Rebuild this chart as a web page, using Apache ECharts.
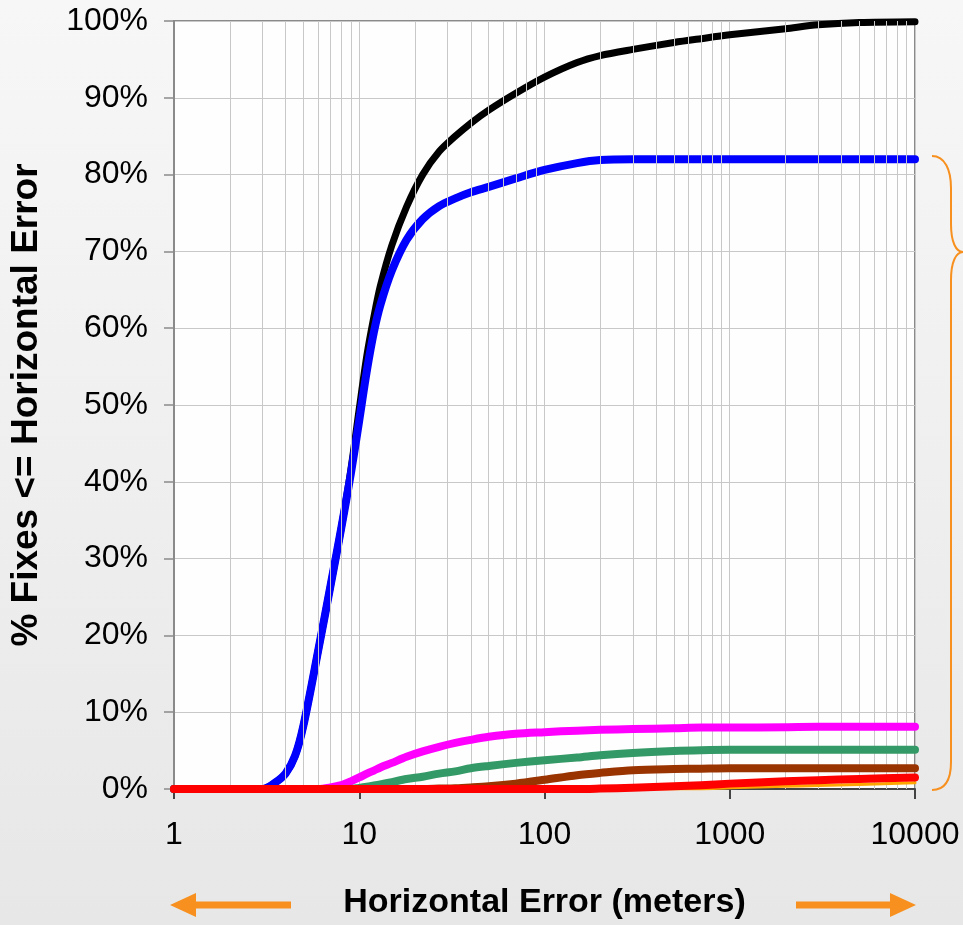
<!DOCTYPE html>
<html>
<head>
<meta charset="utf-8">
<script src="https://cdn.jsdelivr.net/npm/echarts@6/dist/echarts.min.js"></script>
<style>
html,body{margin:0;padding:0;background:#eeeeee;}
#chart{width:963px;height:925px;}
</style>
</head>
<body>
<div id="chart"></div>
<script>
// Horizontal error (meters), log scale
const errorsM = [1, 2, 3, 3.5, 4, 4.5, 5, 6, 7, 8, 9, 10, 11, 12, 13, 15, 18, 22, 27, 33, 40, 50, 70, 100, 150, 200, 300, 500, 700, 1000, 2000, 3000, 5000, 10000];

// % fixes <= horizontal error
const totalPct   = [0, 0, 0, 0.8, 2.0, 4.3, 8.3, 18, 26.5, 34, 41.5, 49.5, 56.5, 61.5, 65.5, 70.8, 75.8, 80, 83, 85, 86.7, 88.4, 90.6, 92.7, 94.6, 95.5, 96.3, 97.2, 97.7, 98.2, 99.0, 99.5, 99.8, 99.9];
const bluePct    = [0, 0, 0, 0.8, 2.0, 4.3, 8.3, 18, 26.5, 34, 41, 48, 54.5, 59.5, 63, 67.5, 71.5, 74.2, 75.9, 76.9, 77.7, 78.4, 79.5, 80.6, 81.5, 81.9, 82, 82, 82, 82, 82, 82, 82, 82];
const magentaPct = [0, 0, 0, 0, 0, 0, 0, 0, 0.2, 0.5, 1.0, 1.5, 2.0, 2.4, 2.8, 3.4, 4.2, 4.9, 5.5, 6.0, 6.4, 6.8, 7.2, 7.4, 7.6, 7.7, 7.8, 7.9, 8.0, 8.0, 8.05, 8.1, 8.1, 8.1];
const greenPct   = [0, 0, 0, 0, 0, 0, 0, 0, 0, 0, 0, 0.15, 0.3, 0.45, 0.6, 0.9, 1.3, 1.6, 2.0, 2.3, 2.7, 3.0, 3.4, 3.75, 4.1, 4.4, 4.7, 4.95, 5.05, 5.1, 5.1, 5.1, 5.1, 5.1];
const brownPct   = [0, 0, 0, 0, 0, 0, 0, 0, 0, 0, 0, 0, 0, 0, 0, 0, 0, 0, 0.05, 0.1, 0.2, 0.35, 0.7, 1.2, 1.8, 2.1, 2.45, 2.6, 2.65, 2.7, 2.7, 2.7, 2.7, 2.7];
const redPct     = [0, 0, 0, 0, 0, 0, 0, 0, 0, 0, 0, 0, 0, 0, 0, 0, 0, 0, 0, 0, 0, 0, 0, 0, 0, 0.05, 0.15, 0.35, 0.5, 0.7, 1.0, 1.15, 1.3, 1.5];
const orangePct  = [0, 0, 0, 0, 0, 0, 0, 0, 0, 0, 0, 0, 0, 0, 0, 0, 0, 0, 0, 0, 0, 0, 0, 0, 0, 0, 0, 0, 0, 0.15, 0.35, 0.45, 0.6, 0.8];

// Tick labels
const xTickLabels = ['1', '10', '100', '1000', '10000'];
const yTickValues = [0, 10, 20, 30, 40, 50, 60, 70, 80, 90, 100];
// Minor vertical gridlines (2..9 within each decade)
const minorGrid = [2,3,4,5,6,7,8,9,20,30,40,50,60,70,80,90,200,300,400,500,600,700,800,900,2000,3000,4000,5000,6000,7000,8000,9000];

const FONT = "'Liberation Sans', Arial, sans-serif";
const ORANGE = '#F7901E';

function pairs(ys) { return errorsM.map((x, i) => [x, ys[i]]); }

function lineSeries(name, ys, color, width, z) {
  return {
    name: name, type: 'line', data: pairs(ys), smooth: 0.3,
    showSymbol: false, symbol: 'none', z: z, silent: true,
    lineStyle: { color: color, width: width, cap: 'round', join: 'round' }
  };
}

const chart = echarts.init(document.getElementById('chart'), null, { renderer: 'canvas' });
chart.setOption({
  animation: false,
  backgroundColor: {
    type: 'linear', x: 0, y: 0, x2: 0, y2: 1,
    colorStops: [{ offset: 0, color: '#f7f7f7' }, { offset: 1, color: '#e7e7e7' }]
  },
  grid: {
    left: 173, right: 48, top: 21, bottom: 136,
    show: true, backgroundColor: '#fefefe', borderColor: '#8a8a8a', borderWidth: 2
  },
  xAxis: {
    type: 'log', logBase: 10, min: 1, max: 10000,
    name: 'Horizontal Error (meters)', nameLocation: 'middle', nameGap: 97,
    nameTextStyle: { fontFamily: FONT, fontSize: 34, fontWeight: 'bold', color: '#000' },
    axisLine: { show: true, onZero: false, lineStyle: { color: '#444', width: 2 } },
    axisTick: { show: true, inside: false, length: 10, lineStyle: { color: '#444', width: 2 } },
    axisLabel: {
      margin: 30, fontFamily: FONT, fontSize: 32, color: '#000',
      formatter: function (v) {
        const idx = Math.round(Math.log10(v));
        return xTickLabels[idx] !== undefined ? xTickLabels[idx] : String(v);
      }
    },
    splitLine: { show: true, lineStyle: { color: '#c8c8c8', width: 1 } },
    minorTick: { show: false }
  },
  yAxis: {
    type: 'value', min: 0, max: 100, interval: 10,
    name: '% Fixes <= Horizontal Error', nameLocation: 'middle', nameGap: 129, nameRotate: 90,
    nameTextStyle: { fontFamily: FONT, fontSize: 37, fontWeight: 'bold', color: '#000' },
    axisLine: { show: true, lineStyle: { color: '#8a8a8a', width: 2 } },
    axisTick: { show: true, inside: false, length: 10, lineStyle: { color: '#8a8a8a', width: 1.5 } },
    axisLabel: {
      margin: 26, fontFamily: FONT, fontSize: 32, color: '#000',
      formatter: function (v) { return yTickValues.indexOf(v) >= 0 ? v + '%' : ''; }
    },
    splitLine: { show: true, lineStyle: { color: '#c8c8c8', width: 1.2 } }
  },
  series: [
    {
      name: 'minor-grid', type: 'line', data: [[1, 0]], showSymbol: false, symbol: 'none',
      lineStyle: { opacity: 0 }, z: 1, silent: true,
      markLine: {
        silent: true, symbol: ['none', 'none'], animation: false,
        label: { show: false },
        lineStyle: { color: '#c8c8c8', type: 'solid', width: 1 },
        emphasis: { disabled: true },
        data: minorGrid.map(v => ({ xAxis: v }))
      }
    },
    lineSeries('Total', totalPct, '#000000', 7, 3),
    lineSeries('Blue', bluePct, '#0000FF', 8, 4),
    lineSeries('Magenta', magentaPct, '#FF00FF', 8, 5),
    lineSeries('Green', greenPct, '#339966', 8, 6),
    lineSeries('Brown', brownPct, '#993300', 8, 7),
    lineSeries('Orange', orangePct, '#FFA500', 3, 8),
    lineSeries('Red', redPct, '#FF0000', 8, 9)
  ],
  graphic: [
    { type: 'polygon', silent: true, shape: { points: [[170,905],[196,893],[196,901.5],[291,901.5],[291,908.5],[196,908.5],[196,917]] }, style: { fill: ORANGE } },
    { type: 'polygon', silent: true, shape: { points: [[916,905],[890,893],[890,901.5],[796,901.5],[796,908.5],[890,908.5],[890,917]] }, style: { fill: ORANGE } },
    { type: 'bezierCurve', silent: true, shape: { x1: 932, y1: 156, cpx1: 945, cpy1: 156, cpx2: 951, cpy2: 170, x2: 951, y2: 188 }, style: { stroke: ORANGE, lineWidth: 2, fill: null } },
    { type: 'line', silent: true, shape: { x1: 951, y1: 188, x2: 951, y2: 224 }, style: { stroke: ORANGE, lineWidth: 2 } },
    { type: 'bezierCurve', silent: true, shape: { x1: 951, y1: 224, cpx1: 951, cpy1: 242, cpx2: 956, cpy2: 252, x2: 963, y2: 252 }, style: { stroke: ORANGE, lineWidth: 2, fill: null } },
    { type: 'bezierCurve', silent: true, shape: { x1: 963, y1: 252, cpx1: 956, cpy1: 252, cpx2: 951, cpy2: 262, x2: 951, y2: 280 }, style: { stroke: ORANGE, lineWidth: 2, fill: null } },
    { type: 'line', silent: true, shape: { x1: 951, y1: 280, x2: 951, y2: 762 }, style: { stroke: ORANGE, lineWidth: 2 } },
    { type: 'bezierCurve', silent: true, shape: { x1: 951, y1: 762, cpx1: 951, cpy1: 780, cpx2: 945, cpy2: 790, x2: 932, y2: 790 }, style: { stroke: ORANGE, lineWidth: 2, fill: null } }
  ]
});
</script>
</body>
</html>
